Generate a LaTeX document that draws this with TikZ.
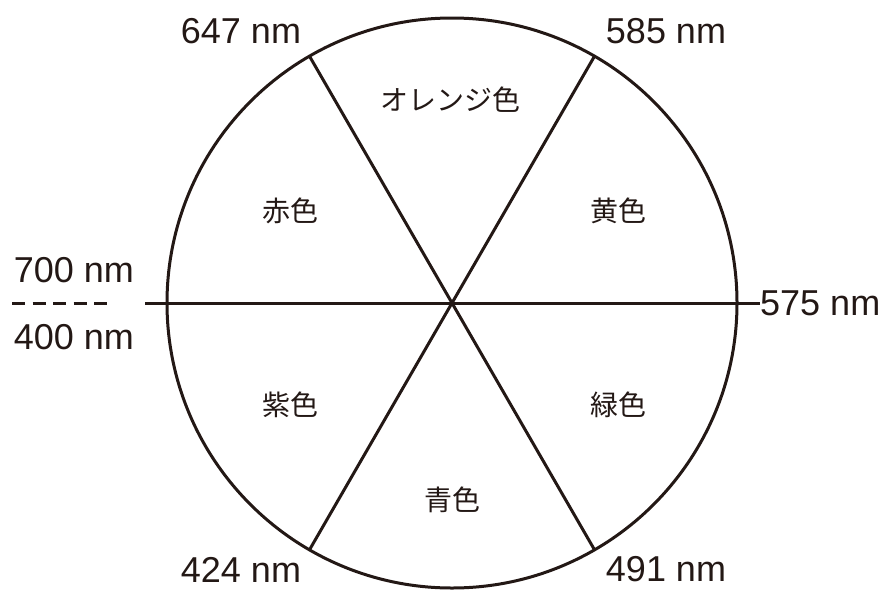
\documentclass[tikz,border=0pt]{standalone}
\usepackage{fontspec}
\setmainfont{Liberation Sans}
\newfontfamily\cjk{Noto Sans CJK JP}
\definecolor{ink}{HTML}{231815}
\begin{document}
\begin{tikzpicture}[x=1pt,y=-1pt,
  lbl/.style={font=\fontsize{36}{40}\selectfont, text=ink, inner sep=0pt},
  jp/.style={font=\cjk\fontsize{28}{32}\selectfont, text=ink, inner sep=0pt},
  ln/.style={draw=ink, line width=3pt}]
\useasboundingbox (0,0) rectangle (890,589);
\coordinate (c) at (452,303);
\coordinate (tr) at (594.5,56.2);
\coordinate (tl) at (309.5,56.2);
\coordinate (bl) at (309.5,549.8);
\coordinate (br) at (594.5,549.8);
\coordinate (hl) at (145,303);
\coordinate (hr) at (760,303);
\coordinate (dl) at (12,303);
\coordinate (dr) at (108,303);
\draw[ln] (c) circle[radius=285];
\draw[ln] (tl) -- (br);
\draw[ln] (tr) -- (bl);
\draw[ln] (hl) -- (hr);
\draw[ln, dash pattern=on 13pt off 7.5pt] (dl) -- (dr);
% wavelength labels
\node[lbl] (n647) at (241,31) {647 nm};
\node[lbl] (n585) at (666,31) {585 nm};
\node[lbl] (n700) at (74,270) {700 nm};
\node[lbl] (n400) at (74,337) {400 nm};
\node[lbl, anchor=west] (n575) at (hr) {575 nm};
\node[lbl] (n424) at (241,570) {424 nm};
\node[lbl] (n491) at (666,569) {491 nm};
% colour names
\node[jp] (orange) at (450,100) {オレンジ色};
\node[jp] (red) at (290,211) {赤色};
\node[jp] (yellow) at (618,211) {黄色};
\node[jp] (purple) at (290,405) {紫色};
\node[jp] (green) at (618,405) {緑色};
\node[jp] (blue) at (452,500) {青色};
\end{tikzpicture}
\end{document}
